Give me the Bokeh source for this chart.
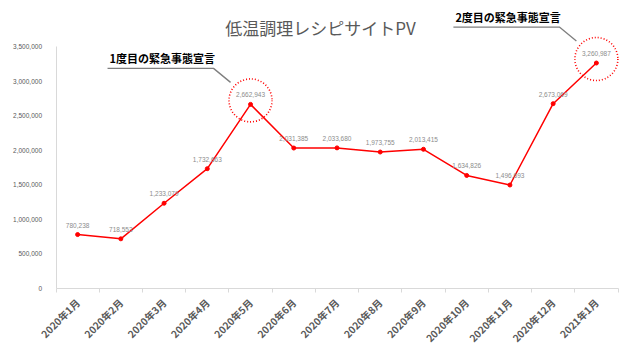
import math
from bokeh.plotting import figure
from bokeh.models import Range1d, FixedTicker, Label, NumeralTickFormatter, ColumnDataSource, LabelSet
from bokeh.core.properties import value
from bokeh.embed import file_html
from bokeh.resources import INLINE

months = ["2020年1月", "2020年2月", "2020年3月", "2020年4月", "2020年5月", "2020年6月",
          "2020年7月", "2020年8月", "2020年9月", "2020年10月", "2020年11月", "2020年12月", "2021年1月"]
pv = [780238, 718553, 1233079, 1732663, 2662943, 2031385, 2033680,
      1973755, 2013415, 1634826, 1496693, 2673069, 3260987]
y_ticks = [0, 500000, 1000000, 1500000, 2000000, 2500000, 3000000, 3500000]
title_text = "低温調理レシピサイトPV"
notes = [(4, "1度目の緊急事態宣言"), (12, "2度目の緊急事態宣言")]

FONT = "Noto Sans CJK JP"
W, H = 624, 344
YMAX = 3500000
# plot-area geometry inside the canvas (pixels)
LEFT_PX, RIGHT_PX = 55.5, 617.5      # x positions of the category-axis ends
TOP_PX, BOTTOM_PX = 46.0, 288.0      # y positions of 3,500,000 and 0

n = len(months)
ux = n / (RIGHT_PX - LEFT_PX)
uy = YMAX / (BOTTOM_PX - TOP_PX)
x_start = -0.5 - LEFT_PX * ux
x_end = n - 0.5 + (W - RIGHT_PX) * ux
y_start = -(H - BOTTOM_PX) * uy
y_end = YMAX + TOP_PX * uy

xs = list(range(n))
labels = [f"{v:,}" for v in pv]

p = figure(width=W, height=H, output_backend="svg", toolbar_location=None,
           x_range=Range1d(x_start, x_end), y_range=Range1d(y_start, y_end),
           min_border_left=0, min_border_right=0, min_border_top=0, min_border_bottom=0)
p.outline_line_color = None
p.grid.grid_line_color = None
p.background_fill_color = "white"
p.border_fill_color = "white"

p.xaxis.fixed_location = 0
p.xaxis.bounds = (-0.5, n - 0.5)
p.xaxis.ticker = FixedTicker(ticks=xs, minor_ticks=[i - 0.5 for i in range(n + 1)])
p.xaxis.major_label_overrides = {i: m for i, m in enumerate(months)}
p.xaxis.major_label_orientation = math.pi / 4
p.xaxis.major_label_text_font = FONT
p.xaxis.major_label_text_font_size = "10px"
p.xaxis.major_label_text_font_style = "bold"
p.xaxis.major_label_text_color = "#595959"
p.xaxis.major_label_standoff = 6
p.xaxis.major_tick_line_color = None
p.xaxis.minor_tick_line_color = "#d9d9d9"
p.xaxis.minor_tick_out = 4
p.xaxis.minor_tick_in = 0
p.xaxis.axis_line_color = "#d9d9d9"

p.yaxis.fixed_location = -0.5
p.yaxis.ticker = FixedTicker(ticks=y_ticks)
p.yaxis.bounds = (0, YMAX)
p.yaxis.formatter = NumeralTickFormatter(format="0,0")
p.yaxis.major_label_text_font = "Liberation Sans"
p.yaxis.major_label_text_font_size = "6.5px"
p.yaxis.major_label_text_color = "#595959"
p.yaxis.major_tick_line_color = None
p.yaxis.minor_tick_line_color = None
p.yaxis.axis_line_color = "#d9d9d9"
p.yaxis.major_label_standoff = 8

src = ColumnDataSource(dict(x=xs, y=pv, label=labels))
p.line("x", "y", source=src, line_color="#ff0000", line_width=1.5)
p.scatter("x", "y", source=src, size=4, fill_color="#ff0000", line_color="#ff0000")
p.add_layout(LabelSet(x="x", y="y", text="label", source=src, y_offset=7,
                      text_align="center", text_baseline="bottom",
                      text_font=value("Liberation Sans"), text_font_size=value("6.5px"),
                      text_color="#8c8c8c"))

p.add_layout(Label(x=(n - 1) / 2, y=YMAX, x_offset=-16.5, y_offset=19, text=title_text,
                   text_font=FONT, text_font_size="17px", text_color="#595959",
                   text_align="center", text_baseline="middle"))

for idx, txt in notes:
    x0, y0 = idx, pv[idx]
    p.scatter([x0], [y0 + 4 * uy], marker="circle", size=43, fill_color=None,
              line_color="#ff0000", line_width=1.6, line_dash="1 2")
    lx = [x0 - 143 * ux, x0 - 37 * ux, x0 - 20 * ux]
    ly = [y0 + 36 * uy, y0 + 36 * uy, y0 + 22 * uy]
    p.line(lx, ly, line_color="#7f7f7f", line_width=1.3)
    p.add_layout(Label(x=x0, y=y0, x_offset=-141, y_offset=38, text=txt,
                       text_font=FONT, text_font_size="11px", text_font_style="bold",
                       text_color="#000000", text_align="left", text_baseline="bottom"))

open("out.html", "w").write(file_html(p, INLINE))
